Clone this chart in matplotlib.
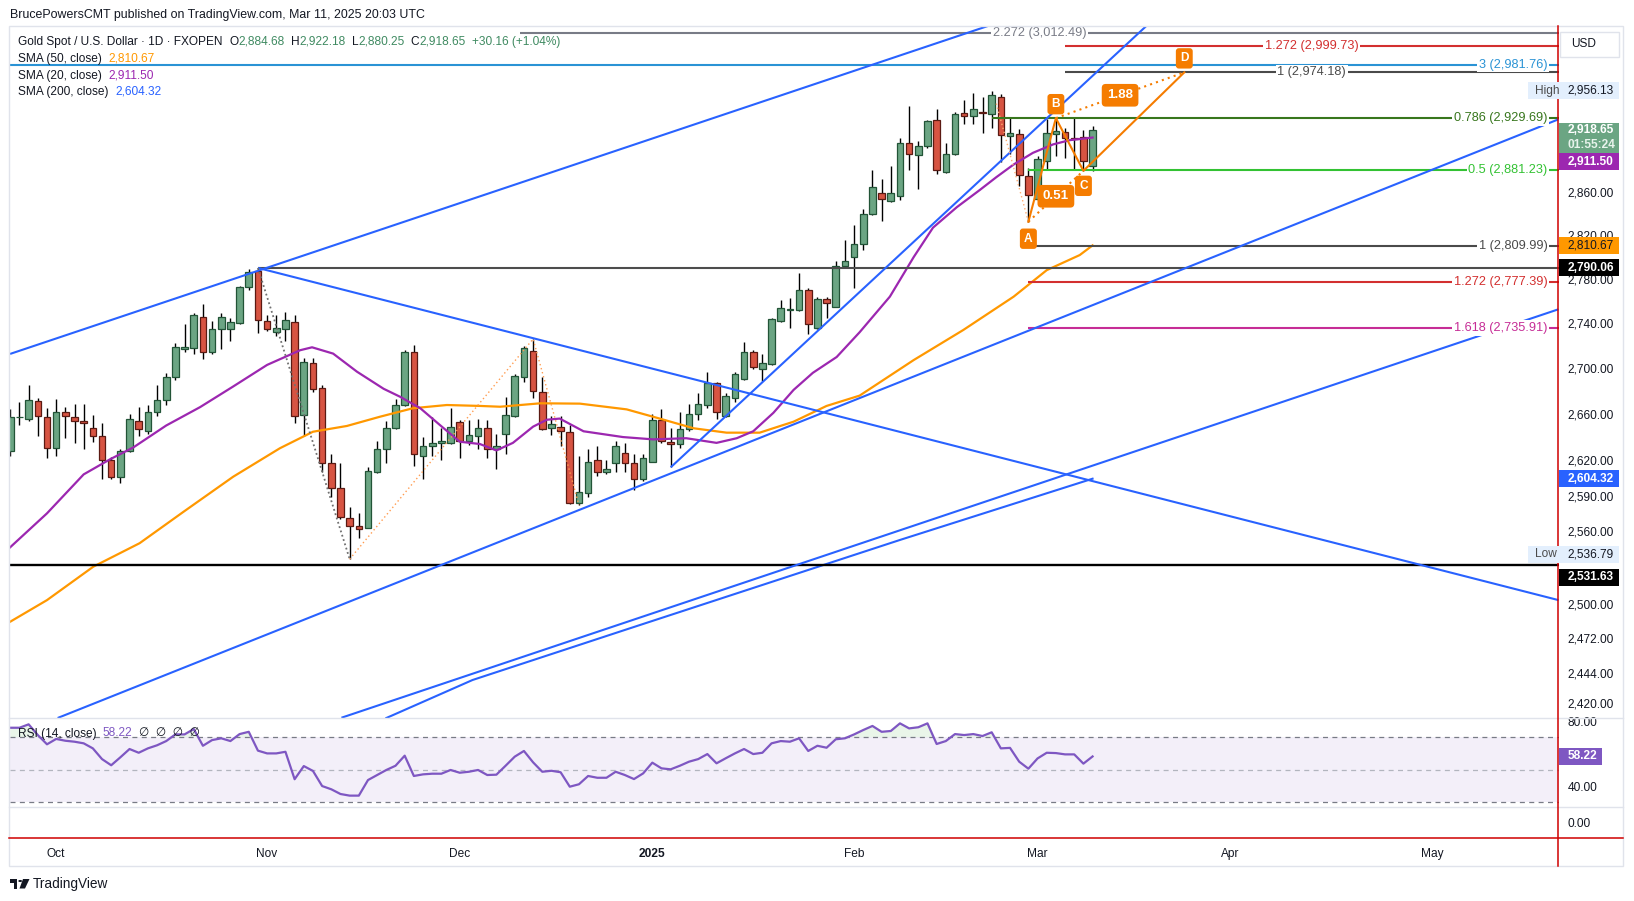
import numpy as np
import pandas as pd
import matplotlib
matplotlib.use("Agg")
import matplotlib.pyplot as plt
from matplotlib.patches import Rectangle, Circle, Polygon
from matplotlib.lines import Line2D
from matplotlib.ticker import NullLocator
from matplotlib.transforms import blended_transform_factory

plt.rcParams['font.family'] = ['Liberation Sans', 'DejaVu Sans']

# ---------------- data ----------------
dates = pd.bdate_range("2024-09-24", "2025-03-11")
dates = dates[~dates.isin(pd.to_datetime(["2024-12-25", "2025-01-01"]))]

opens = [2628, 2657, 2656, 2671, 2657, 2631, 2662, 2657, 2654, 2648, 2641, 2620, 2606, 2628, 2654, 2645, 2662, 2672, 2692, 2717,
         2718, 2746, 2714, 2735, 2735, 2740, 2773, 2787, 2742, 2732, 2735, 2741, 2659, 2705, 2683, 2618, 2596, 2571, 2564, 2563,
         2610, 2630, 2648, 2668, 2714, 2624, 2632, 2635, 2635, 2653, 2637, 2641, 2648, 2630, 2643, 2658, 2692, 2715, 2679, 2648,
         2649, 2644, 2584, 2592, 2620, 2610, 2618, 2626, 2618, 2604, 2619, 2655, 2636, 2634, 2647, 2660, 2668, 2687, 2658, 2674,
         2691, 2714, 2699, 2704, 2742, 2752, 2752, 2770, 2736, 2762, 2755, 2792, 2800, 2812, 2840, 2859, 2852, 2856, 2906, 2895,
         2903, 2928, 2879, 2896, 2935, 2932, 2936, 2934, 2950, 2913, 2915, 2875, 2854, 2889, 2915, 2917, 2911, 2912, 2884.68]
highs = [2664, 2670, 2685, 2674, 2665, 2673, 2666, 2669, 2669, 2659, 2652, 2623, 2630, 2660, 2666, 2668, 2685, 2696, 2722, 2739,
         2749, 2757, 2742, 2749, 2745, 2774, 2789, 2790.06, 2747, 2747, 2750, 2747, 2709, 2709, 2685, 2625, 2618, 2580, 2575, 2614,
         2637, 2654, 2673, 2716, 2721, 2640, 2657, 2648, 2665, 2655, 2655, 2656, 2655, 2643, 2675, 2695, 2720, 2726, 2692, 2658,
         2658, 2650, 2624, 2630, 2632, 2620, 2637, 2635, 2625, 2625, 2660, 2664, 2648, 2662, 2669, 2678, 2697, 2688, 2678, 2697,
         2723, 2716, 2713, 2745, 2761, 2763, 2785, 2772, 2764, 2764, 2796, 2816, 2829, 2844, 2881, 2872, 2885, 2911, 2942, 2908,
         2928, 2939, 2906, 2936, 2947, 2954, 2950, 2956.13, 2953, 2930, 2920, 2883, 2894, 2929, 2930, 2921, 2930, 2919, 2922.18]
lows = [2624, 2650, 2654, 2641, 2622, 2624, 2639, 2635, 2630, 2636, 2604, 2604, 2601, 2627, 2641, 2643, 2658, 2668, 2690, 2714,
        2713, 2708, 2713, 2717, 2724, 2739, 2770, 2731, 2733, 2729, 2724, 2652, 2641, 2679, 2610, 2589, 2570, 2536.79, 2554, 2563,
        2609, 2618, 2647, 2667, 2615, 2604, 2624, 2620, 2634, 2622, 2633, 2630, 2622, 2613, 2625, 2657, 2688, 2674, 2646, 2642,
        2632, 2583, 2582, 2589, 2607, 2608, 2610, 2610, 2595, 2602, 2619, 2635, 2614, 2631, 2645, 2655, 2665, 2656, 2657, 2670,
        2690, 2699, 2689, 2703, 2741, 2736, 2751, 2730, 2735, 2745, 2755, 2790, 2772, 2806, 2839, 2833, 2851, 2853, 2881, 2863,
        2902, 2877, 2878, 2895, 2924, 2924, 2916, 2921, 2888, 2896, 2866, 2832, 2853, 2881, 2894, 2892, 2882, 2880, 2880.25]
closes = [2657, 2657, 2672, 2658, 2631, 2662, 2658, 2654, 2652, 2641, 2620, 2606, 2628, 2656, 2647, 2662, 2672, 2692, 2719, 2719,
          2747, 2714, 2735, 2746, 2741, 2773, 2786, 2743, 2735, 2736, 2743, 2658, 2706, 2682, 2618, 2596, 2572, 2564, 2562, 2611,
          2630, 2648, 2668, 2714, 2625, 2632, 2635, 2637, 2649, 2637, 2642, 2648, 2630, 2632, 2659, 2693, 2718, 2680, 2647, 2651,
          2645, 2584, 2593, 2619, 2610, 2613, 2632, 2618, 2604, 2622, 2655, 2637, 2634, 2647, 2660, 2669, 2687, 2662, 2676, 2695,
          2714, 2701, 2705, 2744, 2754, 2753, 2770, 2739, 2762, 2758, 2792, 2796, 2812, 2840, 2865, 2854, 2859, 2906, 2896, 2903,
          2927, 2881, 2896, 2934, 2932, 2939, 2935, 2952, 2914, 2916, 2876, 2857, 2891, 2916, 2918, 2911, 2910, 2889, 2918.65]
rsi = [75.9, 75.9, 78.0, 71.4, 65.7, 69.0, 67.9, 67.3, 66.3, 63.2, 56.6, 52.8, 57.7, 62.8, 60.5, 63.2, 65.1, 67.7, 71.8, 71.8,
       75.1, 64.8, 68.3, 69.4, 67.7, 72.0, 73.4, 61.8, 60.1, 60.1, 61.1, 44.2, 52.3, 49.3, 40.0, 38.0, 35.1, 34.1, 34.1, 43.7,
       46.8, 49.9, 52.5, 58.7, 46.2, 47.2, 47.6, 47.6, 49.9, 48.2, 48.8, 49.9, 46.8, 47.0, 52.5, 58.1, 61.6, 54.6, 48.8, 49.4,
       48.5, 39.6, 41.1, 46.2, 45.1, 45.1, 48.8, 46.8, 44.3, 47.8, 54.4, 50.9, 50.3, 52.5, 55.0, 56.6, 59.7, 54.0, 57.1, 60.1,
       62.8, 59.7, 60.5, 66.3, 67.7, 67.3, 69.4, 61.6, 64.8, 63.6, 68.8, 69.4, 71.8, 74.5, 77.0, 73.4, 73.9, 78.6, 75.5, 76.2,
       78.6, 65.9, 67.7, 72.0, 71.4, 72.0, 70.8, 73.1, 63.2, 63.5, 55.0, 50.7, 57.0, 60.5, 60.3, 59.5, 59.5, 53.8, 58.22]

# moving averages sampled along the drawn curves (bar index, price)
sma20_x = [-0.1, 4.0, 8.0, 10.9, 13.4, 17.0, 20.7, 24.3, 28.0, 31.6, 32.9, 35.2, 37.8, 40.7, 42.5, 44.7, 46.9, 49.0, 51.2,
           53.0, 54.8, 57.0, 58.5, 59.9, 62.5, 66.8, 70.1, 73.7, 77.0, 79.2, 81.0, 83.2, 85.4, 87.5, 90.1, 92.6, 95.9, 98.5,
           100.6, 103.2, 105.7, 107.5, 109.4, 111.5, 113.7, 115.5, 118]
sma20_y = [2546, 2575, 2608, 2621, 2631, 2650, 2666, 2684, 2703, 2716, 2718.6, 2713, 2697, 2682, 2675, 2665, 2650, 2636, 2634,
           2628.5, 2635, 2649, 2655, 2656, 2645, 2640, 2638, 2639, 2635, 2639, 2645, 2661, 2681, 2696, 2710, 2732, 2764, 2800,
           2827, 2846, 2862, 2874, 2886, 2897, 2905, 2909, 2911.5]
sma50_x = [-0.1, 4.0, 9.05, 14.1, 18.9, 24.3, 29.4, 33.0, 36.7, 40.3, 43.9, 47.6, 51.2, 53.4, 57.8, 62.1, 67.2, 70.8, 74.5,
           78.1, 81.7, 85.4, 89.0, 92.6, 98.5, 103.9, 109.4, 113.0, 116.6, 118]
sma50_y = [2485, 2503, 2530.5, 2550, 2576.4, 2606, 2630.4, 2644.6, 2649.6, 2657.6, 2665, 2667.8, 2667, 2666.3, 2669.3, 2669,
           2664, 2656, 2647.6, 2643.8, 2643.8, 2653.3, 2667, 2676, 2707.3, 2734, 2764, 2788, 2801.8, 2810.67]
sma200_x = [41.0, 50.4, 67.0, 97.0, 118]
sma200_y = [2408.4, 2438.5, 2478.7, 2552.7, 2604.32]

# trend lines: (bar index, price) end points
trend_x = [(-0.03, 107.9), (5.16, 168.8), (27, 168.8), (36.1, 168.8), (72, 124.5)]
trend_y = [(2712.7, 3023.6), (2408.4, 2928.9), (2790.06, 2503), (2408.6, 2752.6), (2614, 3025)]

# fibonacci levels: start bar, price, label, colour, label placement
fib_start = [55.6, 115.0, -0.1, 115.0, 107.0, 111.0, 111.7, 111.0, 111.0]
fib_price = [3012.49, 2999.73, 2981.76, 2974.18, 2929.69, 2881.23, 2809.99, 2777.39, 2735.91]
fib_ratio = ['2.272', '1.272', '3', '1', '0.786', '0.5', '1', '1.272', '1.618']
fib_color = ['#787b86', '#d32f2f', '#2a93d5', '#4a4a4a', '#38761d', '#33c233', '#4a4a4a', '#d32f2f', '#c62d96']
fib_place = ['mid', 'mid', 'right', 'mid', 'right', 'right', 'right', 'right', 'right']

# harmonic ABCD pattern
abcd_name = ['A', 'B', 'C', 'D']
abcd_x = [111, 114, 117, 128]
abcd_y = [2832.5, 2930, 2880, 2974.18]

# swing sketches (dotted diagonals of the fib tools)
swing_gray_x, swing_gray_y = [27, 37], [2790.06, 2536.79]
swing_orng_x, swing_orng_y = [37, 57, 62], [2536.79, 2726, 2582]
swing_late_x, swing_late_y = [107.5, 111], [2944, 2832.5]

high_val, low_val, ath_val, low_line = 2956.13, 2536.79, 2790.06, 2531.63
month_pos = [5, 28, 49, 70, 92, 112, 133, 155]
month_lab = ['Oct', 'Nov', 'Dec', '2025', 'Feb', 'Mar', 'Apr', 'May']
price_ticks = [2420, 2444, 2472, 2500, 2560, 2590, 2620, 2660, 2700, 2740, 2780, 2820, 2860]

# ---------------- figure ----------------
W, H = 1634, 901
fig = plt.figure(figsize=(W / 100, H / 100), dpi=100)
fig.patch.set_facecolor('white')
TXT = '#131722'
FS = 8.6


def rect(x0, y0, x1, y1):
    return [x0 / W, 1 - y1 / H, (x1 - x0) / W, (y1 - y0) / H]


PL, PR = 10, 1558.5
ax = fig.add_axes(rect(PL, 26, PR, 718))
ax_r = fig.add_axes(rect(PL, 718, PR, 807), sharex=ax)
ax_n = fig.add_axes(rect(PL, 807, PR, 838), sharex=ax)

n = len(closes)
xs = np.arange(n)
o, h, l, c = map(np.array, (opens, highs, lows, closes))
up = c >= o

# candles
ax.vlines(xs, l, h, color='black', lw=1.0, zorder=2)
ax.bar(xs[up], np.maximum(c - o, 0.6)[up], bottom=o[up], width=0.72, color='#6ba583',
       edgecolor='#225437', linewidth=0.9, zorder=3)
ax.bar(xs[~up], np.maximum(o - c, 0.6)[~up], bottom=c[~up], width=0.72, color='#d75442',
       edgecolor='#5b1a13', linewidth=0.9, zorder=3)

# moving averages
ax.plot(sma50_x, sma50_y, color='#ff9800', lw=1.6, zorder=4)
ax.plot(sma20_x, sma20_y, color='#9c27b0', lw=1.6, zorder=4)
ax.plot(sma200_x, sma200_y, color='#2962ff', lw=1.5, zorder=4)

# trend lines
for tx, ty in zip(trend_x, trend_y):
    ax.plot(tx, ty, color='#2962ff', lw=1.5, zorder=5, solid_capstyle='butt')

# horizontal levels
XR = 168.8
ax.hlines(ath_val, 27, XR, color='#4d4d4d', lw=1.5, zorder=4)
ax.hlines(low_line, -1, XR, color='black', lw=1.7, zorder=4)

for s, p, r, col, pl in zip(fib_start, fib_price, fib_ratio, fib_color, fib_place):
    ax.hlines(p, s, XR, color=col, lw=1.5, zorder=4)
    lab = f"{r} ({p:,.2f})"
    if pl == 'mid':
        ax.text((s + XR) / 2, p, lab, color=col, fontsize=FS + 0.6, ha='center', va='center', zorder=6,
                bbox=dict(fc='white', ec='none', pad=1.2))
    else:
        ax.annotate(lab, xy=(1, p), xycoords=blended_transform_factory(ax.transAxes, ax.transData),
                    xytext=(-11, 0), textcoords='offset pixels', color=col, fontsize=FS + 0.6,
                    ha='right', va='center', zorder=6, bbox=dict(fc='white', ec='none', pad=1.2))

# dotted swing sketches
ax.plot(swing_gray_x, swing_gray_y, color='#707070', lw=1.3, ls=(0, (1, 1.5)), zorder=5)
ax.plot(swing_orng_x, swing_orng_y, color='#ff9c50', lw=1.0, ls=(0, (1, 2)), zorder=5)
ax.plot(swing_late_x, swing_late_y, color='#ffab70', lw=1.0, ls=(0, (1, 2)), zorder=5)

# ABCD pattern
OR = '#f57c00'
ax.plot(abcd_x, abcd_y, color=OR, lw=1.5, zorder=7)
ax.plot([abcd_x[0], abcd_x[2]], [abcd_y[0], abcd_y[2]], color=OR, lw=1.5, ls=(0, (1, 2)), zorder=7)
ax.plot([abcd_x[1], abcd_x[3]], [abcd_y[1], abcd_y[3]], color=OR, lw=1.5, ls=(0, (1, 2)), zorder=7)
box = dict(boxstyle='round,pad=0.35,rounding_size=0.25', fc=OR, ec='none')
offs = [-17, 14, -15, 14]
for nm, px, py, off in zip(abcd_name, abcd_x, abcd_y, offs):
    ax.annotate(nm, xy=(px, py), xytext=(0, off), textcoords='offset pixels', ha='center', va='center',
                color='white', fontsize=FS, fontweight='bold', bbox=box, zorder=8)
r_bc = (abcd_y[1] - abcd_y[2]) / (abcd_y[1] - abcd_y[0])
r_cd = (abcd_y[3] - abcd_y[2]) / (abcd_y[1] - abcd_y[2])
ax.text((abcd_x[0] + abcd_x[2]) / 2, np.sqrt(abcd_y[0] * abcd_y[2]), f"{r_bc:.2f}", ha='center', va='center',
        color='white', fontsize=FS + 1, fontweight='bold', zorder=8,
        bbox=dict(boxstyle='round,pad=0.4,rounding_size=0.3', fc=OR, ec='none'))
ax.text((abcd_x[1] + abcd_x[3]) / 2, np.sqrt(abcd_y[1] * abcd_y[3]), f"{r_cd:.2f}", ha='center', va='center',
        color='white', fontsize=FS + 1, fontweight='bold', zorder=8,
        bbox=dict(boxstyle='round,pad=0.4,rounding_size=0.3', fc=OR, ec='none'))

# price axis
ax.set_yscale('log')
ax.set_ylim(2408.4, 3019.6)
ax.set_xlim(-0.033, XR)
ax.yaxis.set_minor_locator(NullLocator())
ax.set_yticks(price_ticks)
ax.set_yticklabels([f"{v:,.2f}" for v in price_ticks])
ax.yaxis.tick_right()
ax.tick_params(axis='y', length=0, pad=6.5, labelsize=FS, labelcolor=TXT)
ax.tick_params(axis='x', bottom=False, labelbottom=False)
for a in (ax, ax_r, ax_n):
    for sp in a.spines.values():
        sp.set_visible(False)
    a.set_facecolor('none')

# RSI pane
ax_r.axhspan(30, 70, color='#7e57c2', alpha=0.09, lw=0)
ax_r.axhline(70, color='#787b86', lw=0.9, ls=(0, (4, 3.5)))
ax_r.axhline(30, color='#787b86', lw=0.9, ls=(0, (4, 3.5)))
ax_r.axhline(50, color='#b2b5be', lw=0.9, ls=(0, (4, 3.5)))
rs = np.array(rsi)
ax_r.fill_between(xs, rs, 70, where=rs > 70, interpolate=True, color='#4caf50', alpha=0.12, lw=0)
ax_r.plot(xs, rs, color='#7e57c2', lw=1.6)
ax_r.set_ylim(27.1, 81.9)
ax_r.set_yticks([40, 80])
ax_r.set_yticklabels(['40.00', '80.00'])
ax_r.yaxis.tick_right()
ax_r.tick_params(axis='y', length=0, pad=6.5, labelsize=FS, labelcolor=TXT)
ax_r.tick_params(axis='x', bottom=False, labelbottom=False)

# empty bottom pane + time axis
ax_n.set_ylim(-1, 1)
ax_n.set_yticks([0])
ax_n.set_yticklabels(['0.00'])
ax_n.yaxis.tick_right()
ax_n.tick_params(axis='y', length=0, pad=6.5, labelsize=FS, labelcolor=TXT)
ax_n.set_xticks(month_pos)
ax_n.set_xticklabels(month_lab)
ax_n.tick_params(axis='x', length=0, pad=7, labelsize=FS, labelcolor=TXT)
for t in ax_n.get_xticklabels():
    if t.get_text() == '2025':
        t.set_fontweight('bold')


# ---------------- frame, separators, labels ----------------
def fline(x0, y0, x1, y1, **kw):
    fig.add_artist(Line2D([x0 / W, x1 / W], [1 - y0 / H, 1 - y1 / H], transform=fig.transFigure, **kw))


fig.add_artist(Rectangle((9 / W, 1 - 866 / H), 1614 / W, 840 / H, transform=fig.transFigure,
                         fill=False, ec='#e0e3eb', lw=1.0))
fline(9, 718, 1623, 718, color='#e0e3eb', lw=1.0)
fline(9, 807, 1623, 807, color='#e0e3eb', lw=1.0)
fline(9, 837.7, 1623, 837.7, color='#d00000', lw=1.1)
fline(1558.3, 26, 1558.3, 866, color='#d00000', lw=1.1)

fig.text(10.3 / W, 1 - 15 / H, "BrucePowersCMT published on TradingView.com, Mar 11, 2025 20:03 UTC",
         fontsize=FS + 0.3, color=TXT, va='center')

renderer = fig.canvas.get_renderer()


def runs(x, y, parts, size=FS):
    for txt, col, gap in parts:
        t = fig.text(x / W, 1 - y / H, txt, color=col, fontsize=size, va='center', ha='left')
        x += t.get_window_extent(renderer).width + gap


GRN = '#3f8a61'
runs(18, 42, [("Gold Spot / U.S. Dollar · 1D · FXOPEN", TXT, 7), ("O", TXT, 0), ("2,884.68", GRN, 6),
              ("H", TXT, 0), ("2,922.18", GRN, 6), ("L", TXT, 0), ("2,880.25", GRN, 6), ("C", TXT, 0),
              ("2,918.65", GRN, 6), ("+30.16 (+1.04%)", GRN, 0)])
runs(18, 58.7, [("SMA (50, close)", TXT, 7), ("2,810.67", '#ff9800', 0)])
runs(18, 75.5, [("SMA (20, close)", TXT, 7), ("2,911.50", '#9c27b0', 0)])
runs(18, 92, [("SMA (200, close)", TXT, 7), ("2,604.32", '#2962ff', 0)])
runs(18, 733.5, [("RSI (14, close)", TXT, 6), ("58.22", '#7e57c2', 7), ("∅  ∅  ∅  ∅", TXT, 0)])


def ypix(a, v):
    return H - a.transData.transform((0, v))[1]


def badge(y, text, fc, tc='white', x0=1559, w=60, hgt=17, pre=None):
    fig.add_artist(Rectangle((x0 / W, 1 - (y + hgt / 2) / H), w / W, hgt / H, transform=fig.transFigure,
                             fc=fc, ec='none', zorder=10))
    fig.text(1567.5 / W, 1 - y / H, text, color=tc, fontsize=FS, va='center', ha='left',
             fontweight='bold' if tc == 'white' else 'normal', zorder=11)
    if pre:
        fig.add_artist(Rectangle((1528 / W, 1 - (y + hgt / 2) / H), 31 / W, hgt / H, transform=fig.transFigure,
                                 fc=fc, ec='none', zorder=10))
        fig.text(1535 / W, 1 - y / H, pre, color='#4a4a4a', fontsize=FS, va='center', ha='left', zorder=11)


# USD box
fig.add_artist(Rectangle((1560 / W, 1 - 56.5 / H), 59 / W, 25 / H, transform=fig.transFigure,
                         fc='white', ec='#e0e3eb', lw=1, zorder=10))
fig.text(1571 / W, 1 - 44 / H, "USD", fontsize=FS, color=TXT, va='center', zorder=11)

badge(ypix(ax, high_val), f"{high_val:,.2f}", '#e3effd', tc=TXT, pre='High')
yc = ypix(ax, closes[-1])
fig.add_artist(Rectangle((1559 / W, 1 - 152.5 / H), 60 / W, (152.5 - yc + 7) / H, transform=fig.transFigure,
                         fc='#6ba583', ec='none', zorder=10))
fig.text(1567.5 / W, 1 - yc / H, f"{closes[-1]:,.2f}", color='white', fontsize=FS, fontweight='bold',
         va='center', zorder=11)
fig.text(1567.5 / W, 1 - (yc + 14.5) / H, "01:55:24", color='#e8f3ec', fontsize=FS, fontweight='bold',
         va='center', zorder=11)
badge(ypix(ax, sma20_y[-1]) + 24, f"{sma20_y[-1]:,.2f}", '#9c27b0')
badge(ypix(ax, sma50_y[-1]), f"{sma50_y[-1]:,.2f}", '#ff9800', tc=TXT)
badge(ypix(ax, ath_val), f"{ath_val:,.2f}", '#000000')
badge(ypix(ax, sma200_y[-1]), f"{sma200_y[-1]:,.2f}", '#2962ff')
badge(ypix(ax, low_val) - 5, f"{low_val:,.2f}", '#e3effd', tc=TXT, pre='Low')
badge(ypix(ax, low_line) + 12, f"{low_line:,.2f}", '#000000')
badge(ypix(ax_r, rsi[-1]), f"{rsi[-1]:.2f}", '#7e57c2', w=43)

# TradingView footer
fig.add_artist(Rectangle((10 / W, 1 - 882.5 / H), 7 / W, 3.5 / H, transform=fig.transFigure, fc=TXT, ec='none'))
fig.add_artist(Rectangle((13.5 / W, 1 - 888.5 / H), 3.5 / W, 9.5 / H, transform=fig.transFigure, fc=TXT, ec='none'))
fig.add_artist(Circle((20.2 / W, 1 - 881 / H), 1.9 / W, transform=fig.transFigure, fc=TXT, ec='none'))
fig.add_artist(Polygon([(23 / W, 1 - 879 / H), (29.5 / W, 1 - 879 / H), (25 / W, 1 - 888.5 / H),
                        (19.5 / W, 1 - 888.5 / H)], closed=True, transform=fig.transFigure, fc=TXT, ec='none'))
fig.text(33 / W, 1 - 884 / H, "TradingView", fontsize=FS + 1.2, color=TXT, va='center')

fig.savefig("out.png", dpi=100)
